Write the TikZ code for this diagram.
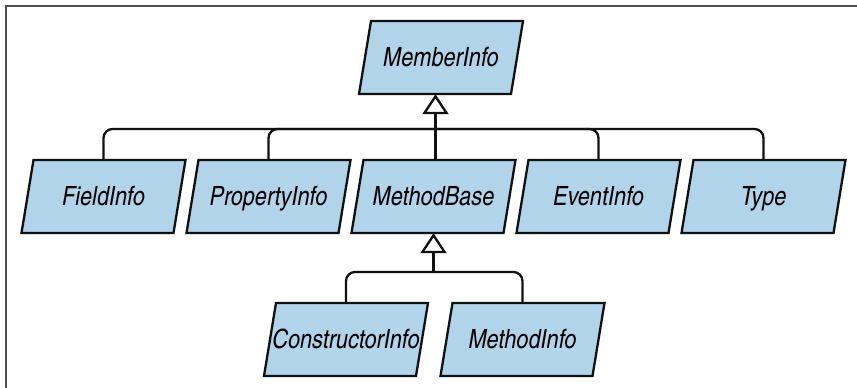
\documentclass[tikz,border=0pt]{standalone}
\usepackage{fontspec}
\usepackage{tikz}
\usetikzlibrary{arrows.meta,positioning}
\newfontfamily\clsfont{texgyreheroscn}[Extension=.otf,UprightFont=*-regular,ItalicFont=*-italic,BoldFont=*-bold,BoldItalicFont=*-bolditalic]
\definecolor{ink}{HTML}{111111}
\definecolor{clsfill}{HTML}{B2D4EA}
\definecolor{framec}{HTML}{505050}
\tikzset{cls/.style={rectangle,minimum width=152pt,minimum height=73pt,inner sep=0pt,
    text height=18.5pt,text depth=0pt,font=\clsfont\itshape\fontsize{26.5}{31}\selectfont},
  clsshape/.style={draw=ink,line width=2.3pt,fill=clsfill,line join=miter},
  wire/.style={line width=2.3pt,draw=ink,rounded corners=9pt},
  inh/.style={line width=2.3pt,draw=ink,-{Triangle[open,width=26pt,length=20pt]}},
  frame/.style={line width=2pt,draw=framec}}
% slanted class box: name, x, y, text
\newcommand\clsbox[4]{%
  \filldraw[clsshape] (#2-82,#3+36.5) -- (#2+70,#3+36.5) -- (#2+82,#3-36.5) -- (#2-70,#3-36.5) -- cycle;
  \node[cls] (#1) at (#2,#3) {#4};}

\begin{document}
\begin{tikzpicture}[x=1pt,y=-1pt]
\useasboundingbox (0,0) rectangle (857,388);
\draw[frame] (6,388) -- (6,6) -- (857,6);

\clsbox{member}{441}{57.5}{MemberInfo}
\foreach \n/\t [count=\i from 0] in {field/FieldInfo,prop/PropertyInfo,method/MethodBase,event/EventInfo,type/Type}{
 \clsbox{\n}{103.5+165*\i}{196.5}{\t}}
\clsbox{ctor}{346}{339.5}{ConstructorInfo}
\clsbox{minfo}{522.5}{339.5}{MethodInfo}

% first level
\coordinate (bar1) at ([xshift=2pt]method.north |- 0,129);
\draw[wire] (field.north) |- (bar1) -| (type.north);
\draw[wire] (prop.north) |- (bar1);
\draw[wire] (event.north) |- (bar1);
\draw[inh] (bar1 |- method.north) -- (bar1 |- member.south);

% second level
\coordinate (bar2) at (method.south |- 0,272);
\draw[wire] (ctor.north) |- (bar2) -| (minfo.north);
\draw[inh] (bar2) -- (method.south);
\end{tikzpicture}
\end{document}
